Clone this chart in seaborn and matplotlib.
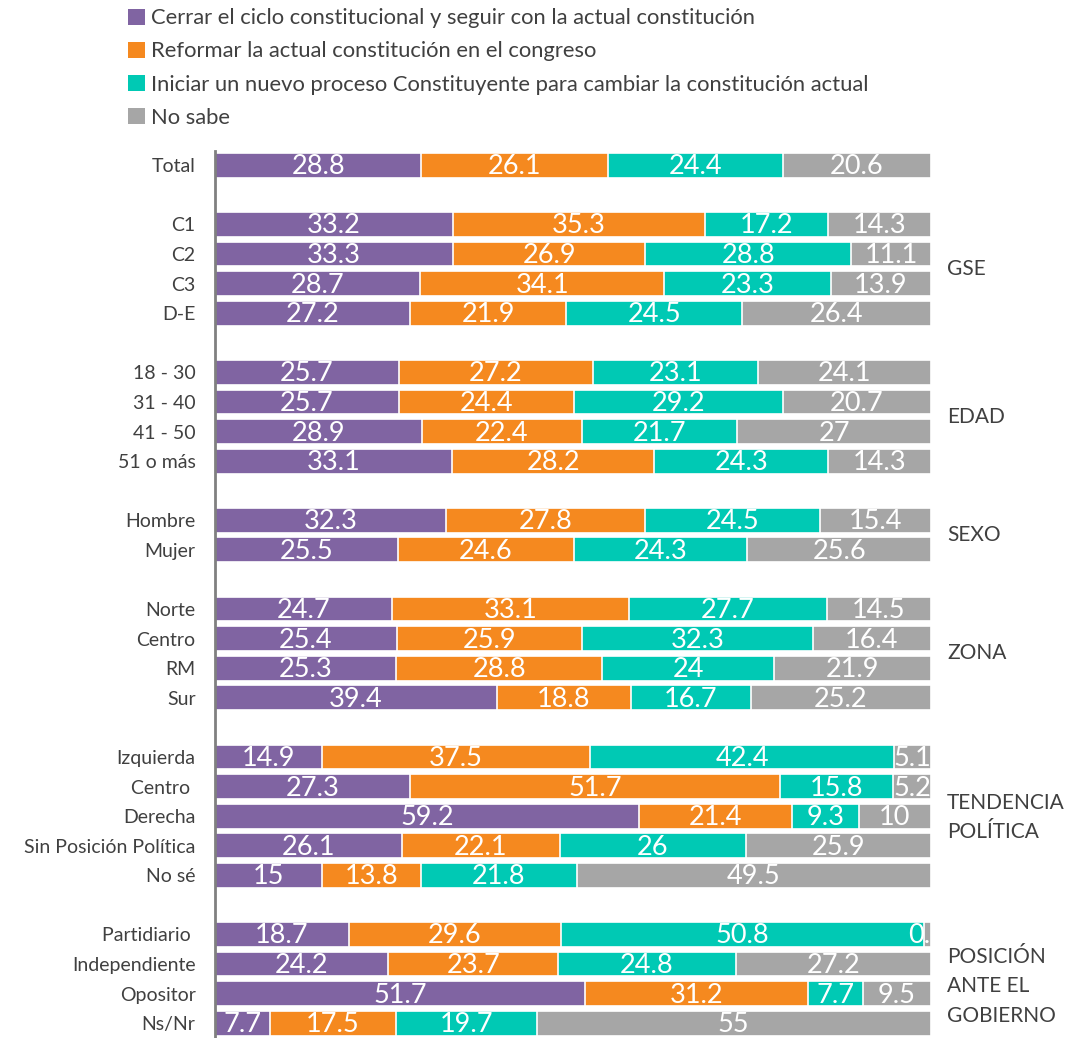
import pandas as pd
import numpy as np
import matplotlib
matplotlib.use("Agg")
import matplotlib.pyplot as plt
from matplotlib.patches import Patch
import seaborn as sns

# --- datos ---
filas = ["Total", "C1", "C2", "C3", "D-E",
         "18 - 30", "31 - 40", "41 - 50", "51 o más",
         "Hombre", "Mujer",
         "Norte", "Centro", "RM", "Sur",
         "Izquierda", "Centro ", "Derecha", "Sin Posición Política", "No sé",
         "Partidiario ", "Independiente", "Opositor", "Ns/Nr"]
cerrar = [28.8, 33.2, 33.3, 28.7, 27.2,
          25.7, 25.7, 28.9, 33.1,
          32.3, 25.5,
          24.7, 25.4, 25.3, 39.4,
          14.9, 27.3, 59.2, 26.1, 15,
          18.7, 24.2, 51.7, 7.7]
reformar = [26.1, 35.3, 26.9, 34.1, 21.9,
            27.2, 24.4, 22.4, 28.2,
            27.8, 24.6,
            33.1, 25.9, 28.8, 18.8,
            37.5, 51.7, 21.4, 22.1, 13.8,
            29.6, 23.7, 31.2, 17.5]
iniciar = [24.4, 17.2, 28.8, 23.3, 24.5,
           23.1, 29.2, 21.7, 24.3,
           24.5, 24.3,
           27.7, 32.3, 24, 16.7,
           42.4, 15.8, 9.3, 26, 21.8,
           50.8, 24.8, 7.7, 19.7]
no_sabe = [20.6, 14.3, 11.1, 13.9, 26.4,
           24.1, 20.7, 27, 14.3,
           15.4, 25.6,
           14.5, 16.4, 21.9, 25.2,
           5.1, 5.2, 10, 25.9, 49.5,
           0.9, 27.2, 9.5, 55]

series = ["Cerrar el ciclo constitucional y seguir con la actual constitución",
          "Reformar la actual constitución en el congreso",
          "Iniciar un nuevo proceso Constituyente para cambiar la constitución actual",
          "No sabe"]
colores = ["#8064A2", "#F5891F", "#00C9B4", "#A6A6A6"]

# orden con filas vacías entre grupos
orden = ["Total", " ",
         "C1", "C2", "C3", "D-E", "  ",
         "18 - 30", "31 - 40", "41 - 50", "51 o más", "   ",
         "Hombre", "Mujer", "    ",
         "Norte", "Centro", "RM", "Sur", "     ",
         "Izquierda", "Centro ", "Derecha", "Sin Posición Política", "No sé", "      ",
         "Partidiario ", "Independiente", "Opositor", "Ns/Nr"]

# (texto, fila de referencia, desplazamiento en filas)
grupos = [("GSE", "C2", 0.5), ("EDAD", "31 - 40", 0.5),
          ("SEXO", "Hombre", 0.5), ("ZONA", "Centro", 0.5),
          ("TENDENCIA\nPOLÍTICA", "Derecha", 0.05),
          ("POSICIÓN\nANTE EL\nGOBIERNO", "Independiente", 0.75)]

df = pd.DataFrame({"fila": filas, series[0]: cerrar, series[1]: reformar,
                   series[2]: iniciar, series[3]: no_sabe})
vals = df[series]
pct = vals.div(vals.sum(axis=1), axis=0) * 100  # 100% apilado
acum = pct.cumsum(axis=1)

sns.set_style("white")
plt.rcParams["font.family"] = ["Lato", "DejaVu Sans"]

fig = plt.figure(figsize=(10.86, 10.38), dpi=100)
ax = fig.add_axes([0.198, 0.0, 0.659, 0.855])

# barras apiladas: del acumulado mayor al menor
for k in range(3, -1, -1):
    sns.barplot(x=acum[series[k]], y=df["fila"], order=orden, orient="h",
                color=colores[k], saturation=1, width=0.84,
                edgecolor="white", linewidth=1.2, ax=ax)

# etiquetas de valores
for i, fila in enumerate(filas):
    y = orden.index(fila)
    inicio = 0
    for k in range(4):
        w = pct.iloc[i, k]
        v = vals.iloc[i, k]
        ax.text(inicio + w / 2, y + 0.05, f"{v:g}", ha="center", va="center",
                color="white", fontsize=19.5, clip_on=True)
        inicio += w

for nombre, ref, d in grupos:
    y = orden.index(ref) + d
    ax.text(1.023, y, nombre, transform=ax.get_yaxis_transform(),
            ha="left", va="center", fontsize=15, color="#404040",
            linespacing=1.6)

ax.set_xlim(0, 100)
ax.set_ylim(len(orden) - 0.5, -0.5)
ax.set_xlabel("")
ax.set_ylabel("")
ax.set_xticks([])
ax.tick_params(axis="y", length=0, labelsize=14, labelcolor="#404040", pad=14)
for s in ["top", "right", "bottom"]:
    ax.spines[s].set_visible(False)
ax.spines["left"].set_color("#808080")
ax.spines["left"].set_linewidth(2)

handles = [Patch(facecolor=c, edgecolor="none") for c in colores]
fig.legend(handles, series, loc="upper left", bbox_to_anchor=(0.1, 1.011),
           frameon=False, fontsize=15.8, labelcolor="#404040",
           handlelength=0.75, handleheight=0.75, handletextpad=0.3,
           labelspacing=0.6)

fig.savefig("out.png", dpi=100)
